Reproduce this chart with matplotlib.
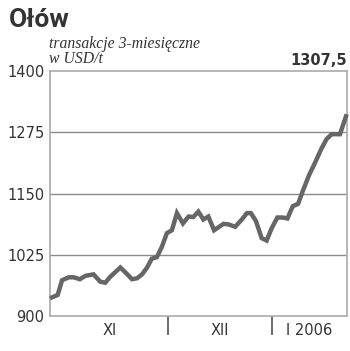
import matplotlib.pyplot as plt

# days relative to 1 Dec 2005, lead price (USD/t)
days = [-34.7, -33.0, -31.7, -29.7, -28.2, -26.4, -24.7, -22.3, -20.3, -18.8,
        -17.3, -14.3, -12.5, -10.8, -9.3, -7.8, -6.3, -4.9, -3.4, -1.9,
        -0.4, 1.1, 2.6, 4.4, 6.1, 7.5, 9.0, 10.5, 12.0, 13.7,
        16.5, 18.0, 20.0, 22.0, 23.5, 24.7, 26.2, 27.9, 29.4, 30.9,
        32.6, 34.2, 35.6, 37.2, 38.8, 40.3, 42.1, 43.8, 45.8, 47.3,
        48.8, 51.3, 53.1]
prices = [938, 943, 973, 979, 979, 975, 982, 985, 970, 968,
          980, 999, 987, 975, 977, 985, 999, 1017, 1020, 1041,
          1069, 1075, 1110, 1089, 1103, 1102, 1113, 1097, 1103, 1075,
          1088, 1087, 1082, 1097, 1110, 1110, 1094, 1059, 1054, 1079,
          1101, 1101, 1099, 1124, 1129, 1157, 1188, 1212, 1242, 1261,
          1271, 1271, 1307.5]

yticks = [900, 1025, 1150, 1275, 1400]
month_bounds = [0, 31]
month_pos = [-17.5, 15.5, 42.2]
month_labels = ['XI', 'XII', 'I 2006']

fig = plt.figure(figsize=(3.5, 3.51), dpi=100)
ax = fig.add_axes([50/350, 35/351, 297/350, 245/351])

ax.plot(days, prices, color='#666666', lw=3.2, solid_joinstyle='miter', clip_on=False, zorder=3)

ax.set_xlim(-35.3, 53.4)
ax.set_ylim(900, 1400)
for y in yticks[1:-1]:
    ax.axhline(y, color='#8a8a8a', lw=1, zorder=1)

for s in ax.spines.values():
    s.set_color('#aaaaaa')
    s.set_linewidth(1.2)

ax.set_yticks(yticks)
ax.set_yticklabels([str(v) for v in yticks], color='#333333', fontsize=10.5)
ax.tick_params(axis='y', length=0, pad=4)

ax.set_xticks(month_bounds)
ax.set_xticklabels(['', ''])
ax.tick_params(axis='x', which='major', length=14, width=1.2, color='#555555', direction='out')
ax.set_xticks(month_pos, minor=True)
ax.set_xticklabels(month_labels, minor=True, color='#333333', fontsize=10.5)
ax.tick_params(axis='x', which='minor', length=0, pad=5)

fig.text(9/350, 1 - 27/351, 'Ołów', fontsize=19, fontweight='bold', color='#333333',
         family=['Roboto', 'DejaVu Sans'], va='baseline', ha='left')
serif = ['Liberation Serif', 'DejaVu Serif']
fig.text(49/350, 1 - 48/351, 'transakcje 3-miesięczne', fontsize=11.3, style='italic',
         color='#333333', family=serif, va='baseline', ha='left')
fig.text(49/350, 1 - 63/351, 'w USD/t', fontsize=11.3, style='italic',
         color='#333333', family=serif, va='baseline', ha='left')
fig.text(347/350, 1 - 65/351, '1307,5', fontsize=10.5, fontweight='bold', color='#333333',
         va='baseline', ha='right')

plt.savefig('out.png', dpi=100)
